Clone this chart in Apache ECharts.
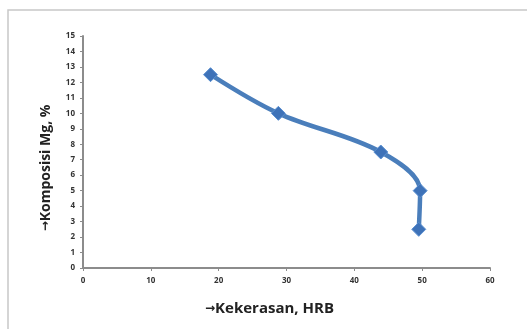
<!DOCTYPE html>
<html><head><meta charset="utf-8">
<script src="https://cdn.jsdelivr.net/npm/echarts@6/dist/echarts.min.js"></script>
<style>html,body{margin:0;padding:0;background:#fff}#c{width:527px;height:329px}</style>
</head><body><div id="c"></div>
<script>
const hardness = [18.8, 28.8, 43.9, 49.7, 49.5];
const mgPercent = [12.5, 10, 7.5, 5, 2.5];
const xTicks = [0, 10, 20, 30, 40, 50, 60];
const yTicks = [0,1,2,3,4,5,6,7,8,9,10,11,12,13,14,15];
const xName = 'Kekerasan, HRB';
const yName = 'Komposisi Mg, %';

const arrowRich = {a: {fontFamily: 'DejaVu Sans', fontWeight: 'bold', fontSize: 12, color: '#222'}};
const xNameStyle = {fontFamily: 'Open Sans', fontWeight: 'bold', fontSize: 15, color: '#222', rich: arrowRich};
const yNameStyle = {fontFamily: 'Open Sans', fontWeight: 'bold', fontSize: 14, color: '#222', rich: arrowRich};

const chart = echarts.init(document.getElementById('c'));
chart.setOption({
  animation: false,
  graphic: [{type:'rect', shape:{x:8,y:10,width:530,height:330}, style:{fill:'none', stroke:'#c8c8c8', lineWidth:1.5}}],
  grid: {left: 83, right: 37, top: 36, bottom: 61},
  xAxis: {
    type: 'value', min: xTicks[0], max: xTicks[xTicks.length-1], interval: 10,
    name: '{a|→}' + xName, nameLocation: 'middle', nameGap: 33,
    nameTextStyle: Object.assign({padding: [0, 34, 0, 0]}, xNameStyle),
    axisLine: {lineStyle: {color: '#8c8c8c', width: 2}},
    axisTick: {show: true, inside: false, length: 3, lineStyle: {color: '#8c8c8c'}},
    axisLabel: {fontFamily: 'Open Sans', fontWeight: 'bold', fontSize: 8, color: '#333', margin: 9},
    splitLine: {show: false}
  },
  yAxis: {
    type: 'value', min: yTicks[0], max: yTicks[yTicks.length-1], interval: 1,
    name: '{a|→}' + yName, nameLocation: 'middle', nameGap: 30,
    nameTextStyle: Object.assign({padding: [0, 32, 0, 0]}, yNameStyle),
    axisLine: {show: true, lineStyle: {color: '#8c8c8c', width: 2}},
    axisTick: {show: true, inside: false, length: 3, lineStyle: {color: '#8c8c8c'}},
    axisLabel: {fontFamily: 'Open Sans', fontWeight: 'bold', fontSize: 8, color: '#333', margin: 8},
    splitLine: {show: false}
  },
  series: [{
    type: 'line',
    data: hardness.map((h, i) => [h, mgPercent[i]]),
    smooth: 0.35,
    symbol: 'diamond', symbolSize: 14,
    lineStyle: {color: '#4a7ebb', width: 4.5},
    itemStyle: {color: '#3e72b8', borderColor: '#5a8fd0', borderWidth: 1}
  }]
});
</script></body></html>
